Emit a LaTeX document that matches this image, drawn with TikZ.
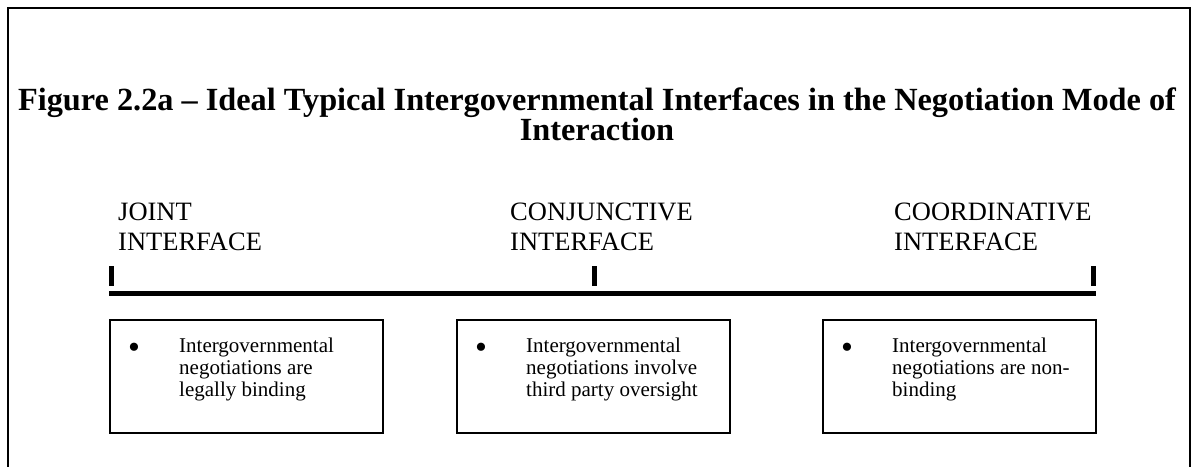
\documentclass[tikz,border=0pt]{standalone}
\usepackage{fontspec}
\setmainfont{Liberation Serif}
\usetikzlibrary{positioning}

\begin{document}
\begin{tikzpicture}[
  x=1pt,y=-1pt,
  title_text/.style={
    font=\fontsize{32.3}{30}\selectfont\bfseries,align=center,inner sep=0
  },
  interface_label/.style={
    font=\fontsize{26.5}{30}\selectfont,align=left,anchor=north west,inner sep=0
  },
  interface_box/.style={
    draw,line width=2pt,minimum width=273pt,minimum height=113pt,inner sep=0
  },
  box_text/.style={
    font=\fontsize{21}{22}\selectfont,align=left,inner sep=0
  },
  tick_mark/.style={
    line width=5pt
  }]
  %
  \clip (0,0) rectangle (1198,466);
  \draw[line width=1.5pt] (8,500) |- (1190,8) -- (1190,500);
  %
  \node[title_text] (title) at (597,114)
    {Figure 2.2a -- Ideal Typical Intergovernmental Interfaces in the Negotiation Mode of\\Interaction};
  %
  \foreach \x/\name/\word in {118/joint/JOINT,510/conjunctive/CONJUNCTIVE,894/coordinative/COORDINATIVE} {
    \node[interface_label] (label_\name) at (\x,203) {\word\\INTERFACE};
  }
  %
  \coordinate (line_start) at (109,293.5);
  \coordinate (line_end) at (1096,293.5);
  \draw[line width=5pt] (line_start) -- (line_end);
  \foreach \x in {111,594,1093} {
    \draw[tick_mark] (\x,266) -- (\x,286);
  }
  %
  \foreach \x/\name/\txt in {
      246.5/joint/{Intergovernmental\\negotiations are\\legally binding},
      593.5/conjunctive/{Intergovernmental\\negotiations involve\\third party oversight},
      959.5/coordinative/{Intergovernmental\\negotiations are non-\\binding}} {
    \node[interface_box] (box_\name) at (\x,376.5) {};
    \node[font=\fontsize{34}{34}\selectfont,inner sep=0] (bullet_\name)
      at ([shift={(25,32)}]box_\name.north west) {\textbullet};
    \node[box_text,anchor=north west] (text_\name) at ([shift={(70,19)}]box_\name.north west) {\txt};
  }
\end{tikzpicture}
\end{document}
